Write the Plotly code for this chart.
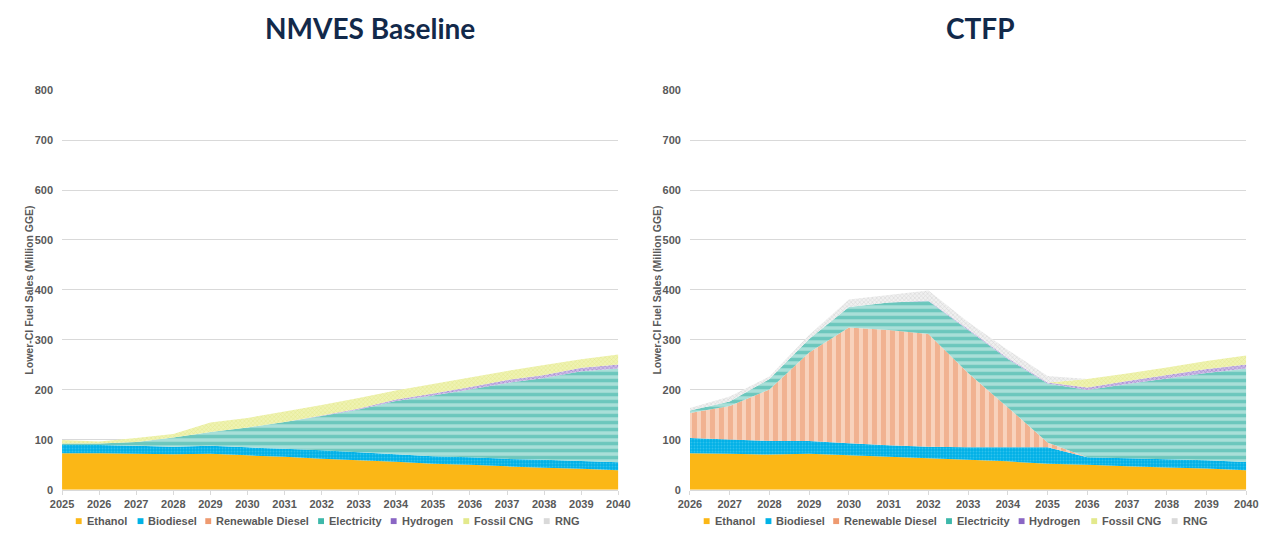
import plotly.graph_objects as go

# ---- data (Million GGE) ----
years_base = list(range(2025, 2041))
years_ctfp = list(range(2026, 2041))

series_names = ["Ethanol", "Biodiesel", "Renewable Diesel", "Electricity",
                "Hydrogen", "Fossil CNG", "RNG"]

base_ethanol = [73, 73, 72, 71, 72, 69, 66, 62, 59, 56, 52, 50, 47, 44, 42, 39]
base_biodiesel = [17, 17, 16, 15, 16, 16, 16, 17, 16, 15, 15, 15, 15, 16, 15.5, 16]
base_renewable_diesel = [0] * 16
base_electricity = [3, 3, 8, 19, 28, 40, 54, 69, 86, 107, 122, 136, 152, 164, 180, 188]
base_hydrogen = [0, 0, 0, 0, 0, 0, 0, 1, 2, 3, 4, 5, 6, 6, 7, 8]
base_fossil_cng = [7, 4, 8, 7, 19, 19, 21, 21, 21, 18, 19, 19, 18, 20, 17, 20]
base_rng = [0] * 16

ctfp_ethanol = [73, 72, 70.5, 72, 69, 66, 63, 60, 57, 52, 50, 47, 44.5, 42.5, 39]
ctfp_biodiesel = [31, 29, 27.5, 26, 24.5, 23.5, 23, 25, 28, 33, 15, 16, 16.5, 16.5, 16.5]
ctfp_renewable_diesel = [50, 67, 103, 177, 231.5, 230.5, 226, 149, 80, 10, 0, 0, 0, 0, 0]
ctfp_electricity = [5, 9, 21, 27, 41, 55, 66, 86, 97, 118, 135, 149, 162, 175, 187.5]
ctfp_hydrogen = [0, 0, 0, 0, 0, 0, 1, 2, 2, 2, 5, 6, 7, 8, 8]
ctfp_fossil_cng = [0, 0, 0, 0, 0, 0, 0, 0, 0, 0, 17, 15, 15, 16, 18]
ctfp_rng = [5, 10, 5, 8, 15, 15, 20, 14, 16, 13, 0, 0, 0, 0, 0]

y_ticks = [0, 100, 200, 300, 400, 500, 600, 700, 800]

# ---- styling ----
W, H = 1273, 533
GRAY = "#595959"
GRID = "#D9D9D9"
TICK_FONT = dict(family="Liberation Sans, Arial", size=11, color=GRAY)

styles = {
    "Ethanol": dict(color="#FBB716", pattern=None),
    "Biodiesel": dict(color="#00B2E6",
                      pattern=dict(shape=".", fgcolor="#63D3F2", bgcolor="#00B0E6",
                                   size=3, solidity=0.3)),
    "Renewable Diesel": dict(color="#EE9A70",
                             pattern=dict(shape="|", fgcolor="#EA9166", bgcolor="#F8D2BC",
                                          size=9, solidity=0.55)),
    "Electricity": dict(color="#3DB8AA",
                        pattern=dict(shape="-", fgcolor="#2FB0A2", bgcolor="#A9DFD8",
                                     size=7, solidity=0.5)),
    "Hydrogen": dict(color="#8A66C4",
                     pattern=dict(shape="x", fgcolor="#7B56BE", bgcolor="#CDBDE6",
                                  size=3, solidity=0.4)),
    "Fossil CNG": dict(color="#E3E98C",
                       pattern=dict(shape="x", fgcolor="#D3DA66", bgcolor="#EFF3B2",
                                    size=3, solidity=0.3)),
    "RNG": dict(color="#D9D9D9",
                pattern=dict(shape="x", fgcolor="#BDBDBD", bgcolor="#F0F0F0",
                             size=3, solidity=0.35)),
}

base_values = [base_ethanol, base_biodiesel, base_renewable_diesel, base_electricity,
               base_hydrogen, base_fossil_cng, base_rng]
ctfp_values = [ctfp_ethanol, ctfp_biodiesel, ctfp_renewable_diesel, ctfp_electricity,
               ctfp_hydrogen, ctfp_fossil_cng, ctfp_rng]

fig = go.Figure()


def add_stack(xs, values_list, group, xaxis, yaxis):
    for name, vals in zip(series_names, values_list):
        st = styles[name]
        kw = dict(x=xs, y=vals, name=name, stackgroup=group, mode="none",
                  fillcolor=st["color"], xaxis=xaxis, yaxis=yaxis, showlegend=False,
                  hovertemplate=name + ": %{y}<extra></extra>")
        if st["pattern"]:
            kw["fillpattern"] = st["pattern"]
        fig.add_trace(go.Scatter(**kw))


add_stack(years_base, base_values, "base", "x", "y")
add_stack(years_ctfp, ctfp_values, "ctfp", "x2", "y2")

# plot areas in pixels
left_px = (51, 618)
right_px = (691, 1258)
top_px, bottom_px = 86, 495


def px_x(p):
    return p / W


def px_y(p):
    return 1 - p / H


ydom = [px_y(bottom_px), px_y(top_px)]

xaxis_common = dict(tickmode="array", ticks="outside", ticklen=4, tickcolor=GRID,
                    showline=True, linecolor=GRID, linewidth=1, showgrid=False,
                    zeroline=False, tickfont=dict(TICK_FONT, weight="bold"),
                    fixedrange=True)
yaxis_common = dict(range=[0, 800], tickvals=y_ticks, showgrid=True, gridcolor=GRID,
                    gridwidth=1, zeroline=False, showline=False, ticks="",
                    ticklabelstandoff=8, tickfont=dict(TICK_FONT, weight="bold"),
                    fixedrange=True)

fig.update_layout(
    width=W, height=H,
    margin=dict(l=0, r=0, t=0, b=0),
    paper_bgcolor="white", plot_bgcolor="white",
    showlegend=False,
    xaxis=dict(xaxis_common, domain=[px_x(left_px[0]), px_x(left_px[1])],
               range=[2025, 2040], tickvals=years_base),
    yaxis=dict(yaxis_common, domain=ydom, anchor="x"),
    xaxis2=dict(xaxis_common, domain=[px_x(right_px[0]), px_x(right_px[1])],
                range=[2026, 2040], tickvals=years_ctfp, anchor="y2"),
    yaxis2=dict(yaxis_common, domain=ydom, anchor="x2"),
)

# titles
title_font = dict(family="Lato, Noto Sans, sans-serif", size=28, color="#12294A",
                  weight="bold")
for text, cx in [("NMVES Baseline", 365), ("CTFP", 987)]:
    fig.add_annotation(text=text, x=px_x(cx), y=px_y(22), xref="paper", yref="paper",
                       xanchor="center", yanchor="middle", showarrow=False,
                       font=title_font)

# y-axis titles
for cx in (17, 657):
    fig.add_annotation(text="Lower-CI Fuel Sales (Million GGE)", x=px_x(cx),
                       y=px_y((top_px + bottom_px) / 2), xref="paper", yref="paper",
                       xanchor="center", yanchor="middle", textangle=-90,
                       showarrow=False,
                       font=dict(family="Liberation Sans, Arial", size=10.5,
                                 color=GRAY, weight="bold"))

# legends below each panel
legend_sq_x = [68, 131, 200, 315, 389, 463, 545]
legend_y = 527
for offset in (0, 640):
    for name, sx in zip(series_names, legend_sq_x):
        x0 = sx + offset
        fig.add_shape(type="rect", xref="paper", yref="paper",
                      x0=px_x(x0 - 3), x1=px_x(x0 + 3),
                      y0=px_y(legend_y + 3), y1=px_y(legend_y - 3),
                      fillcolor=styles[name]["color"], line=dict(width=0))
        fig.add_annotation(text=name, x=px_x(x0 + 6), y=px_y(legend_y),
                           xref="paper", yref="paper", xanchor="left",
                           yanchor="middle", showarrow=False,
                           font=dict(family="Liberation Sans, Arial", size=11,
                                     color=GRAY, weight="bold"))

fig.write_html("out.html")
